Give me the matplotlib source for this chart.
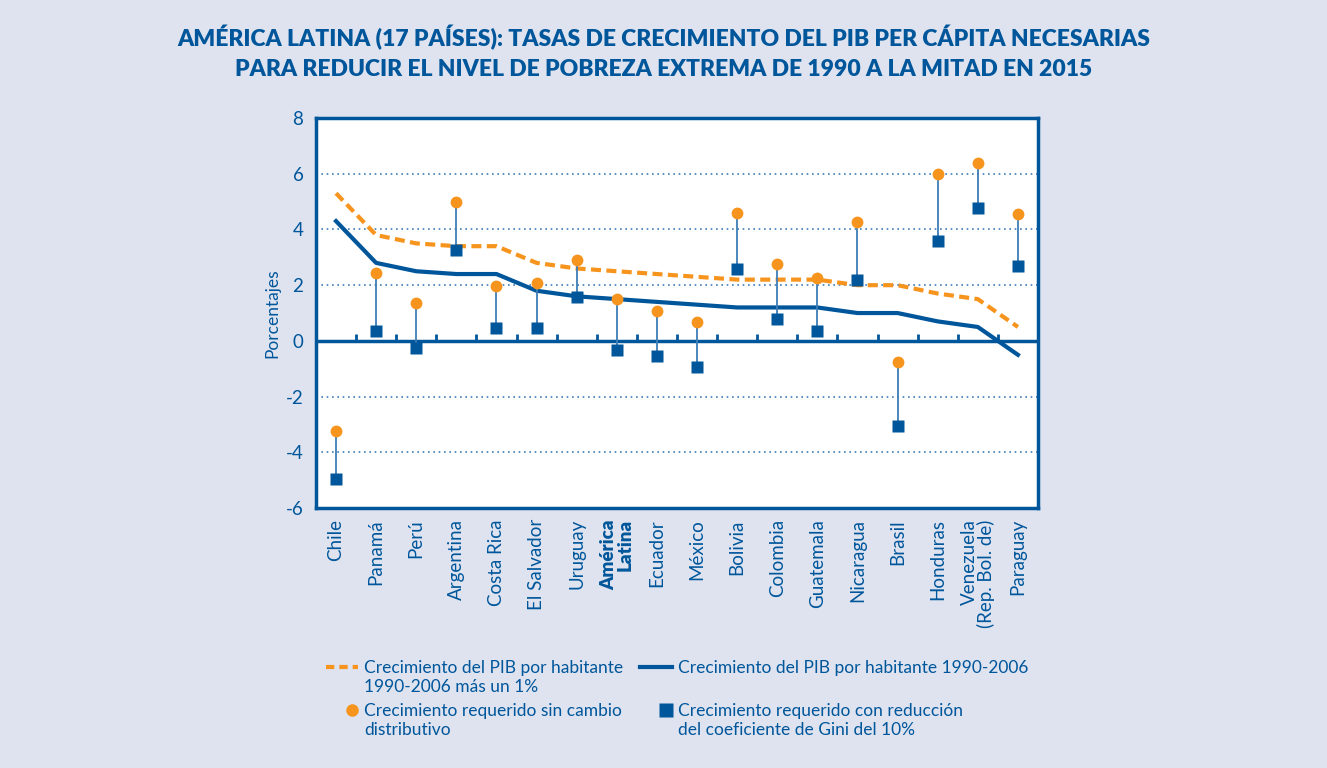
import matplotlib
matplotlib.use('Agg')
import matplotlib.pyplot as plt
from matplotlib.lines import Line2D
import numpy as np

BLUE = '#00569b'
STEM = '#3d7db8'
ORANGE = '#f7941d'
BG = '#dee3ef'
plt.rcParams['font.family'] = ['Lato', 'DejaVu Sans']
plt.rcParams['axes.unicode_minus'] = False

paises = ['Chile', 'Panamá', 'Perú', 'Argentina', 'Costa Rica', 'El Salvador',
          'Uruguay', 'América\nLatina', 'Ecuador', 'México', 'Bolivia', 'Colombia',
          'Guatemala', 'Nicaragua', 'Brasil', 'Honduras', 'Venezuela\n(Rep. Bol. de)',
          'Paraguay']

# crecimiento del PIB por habitante 1990-2006 mas un 1%
pib_mas_1 = [5.3, 3.8, 3.5, 3.4, 3.4, 2.8, 2.6, 2.5, 2.4, 2.3, 2.2, 2.2, 2.2,
             2.0, 2.0, 1.7, 1.5, 0.5]
# crecimiento del PIB por habitante 1990-2006
pib = [4.3, 2.8, 2.5, 2.4, 2.4, 1.8, 1.6, 1.5, 1.4, 1.3, 1.2, 1.2, 1.2,
       1.0, 1.0, 0.7, 0.5, -0.5]
# crecimiento requerido sin cambio distributivo
sin_cambio = [-3.25, 2.45, 1.35, 4.98, 1.97, 2.07, 2.9, 1.5, 1.06, 0.67, 4.58,
              2.76, 2.27, 4.28, -0.74, 5.99, 6.39, 4.57]
# crecimiento requerido con reduccion del Gini del 10%
gini_10 = [-4.95, 0.37, -0.24, 3.25, 0.47, 0.47, 1.58, -0.31, -0.54, -0.93, 2.58,
           0.79, 0.37, 2.19, -3.04, 3.59, 4.77, 2.69]

yticks = [-6, -4, -2, 0, 2, 4, 6, 8]

fig = plt.figure(figsize=(13.27, 7.68), dpi=100, facecolor=BG)
ax = fig.add_axes([0.2381, 0.3385, 0.5441, 0.5078])
ax.set_facecolor('white')

x = np.arange(len(paises))

## grid dotted, not on the frame or zero
for t in yticks:
    if t not in (yticks[0], yticks[-1], 0):
        ax.axhline(t, color=STEM, lw=1.2, ls=(0, (1, 2.2)), zorder=1)

ax.axhline(0, color=BLUE, lw=2.5, zorder=2)
ax.vlines(x[:-1] + 0.5, 0, 0.25, color=BLUE, lw=2, zorder=2)

ax.plot(x, pib_mas_1, color=ORANGE, lw=3, ls=(0, (2.4, 1.3)), zorder=3)
ax.plot(x, pib, color=BLUE, lw=3, zorder=3)

ax.vlines(x, gini_10, sin_cambio, color=STEM, lw=1.3, zorder=4)
ax.plot(x, sin_cambio, 'o', color=ORANGE, ms=8.5, mec='none', zorder=5)
ax.plot(x, gini_10, 's', color=BLUE, ms=9, mec='none', zorder=5)

ax.set_xlim(-0.5, len(paises) - 0.5)
ax.set_ylim(-6, 8)
ax.set_yticks(yticks)
ax.tick_params(axis='y', length=0, labelsize=13.5, labelcolor=BLUE, pad=9)
ax.set_xticks(x)
ax.set_xticklabels(paises, rotation=90, va='top', ha='center',
                   multialignment='right', fontsize=13.5, color=BLUE,
                   linespacing=0.95)
ax.tick_params(axis='x', length=0, pad=8)
ax.get_xticklabels()[7].set_fontweight('heavy')
for s in ax.spines.values():
    s.set_color(BLUE)
    s.set_linewidth(2.5)

ax.set_ylabel('Porcentajes', fontsize=12.5, color=BLUE, labelpad=4)

fig.text(0.5, 0.968, 'AMÉRICA LATINA (17 PAÍSES): TASAS DE CRECIMIENTO DEL PIB PER CÁPITA NECESARIAS\n'
         'PARA REDUCIR EL NIVEL DE POBREZA EXTREMA DE 1990 A LA MITAD EN 2015',
         ha='center', va='top', fontsize=16.5, fontweight='heavy', color=BLUE,
         linespacing=1.55)

## legend drawn by hand so the key sits on the first text line
W, H = 1327, 768
legend_items = [
    (dict(color=ORANGE, lw=3, ls=(0, (2, 1.2))), 'line', 326, 667,
     'Crecimiento del PIB por habitante\n1990-2006 más un 1%'),
    (dict(color=BLUE, lw=3), 'line', 640, 667,
     'Crecimiento del PIB por habitante 1990-2006'),
    (dict(color=ORANGE, marker='o', ms=9, mec='none'), 'marker', 326, 710,
     'Crecimiento requerido sin cambio\ndistributivo'),
    (dict(color=BLUE, marker='s', ms=10, mec='none'), 'marker', 640, 710,
     'Crecimiento requerido con reducción\ndel coeficiente de Gini del 10%'),
]
for style, kind, px, py, label in legend_items:
    yy = 1 - py / H
    if kind == 'line':
        xs = [px / W, (px + 32) / W]
    else:
        xs = [(px + 26) / W]
    fig.add_artist(Line2D(xs, [yy] * len(xs), transform=fig.transFigure,
                          **style))
    fig.text((px + 38) / W, yy + 7 / H, label, ha='left', va='top',
             fontsize=12.5, color=BLUE, linespacing=1.2)

plt.savefig('out.png', dpi=100, facecolor=BG)
